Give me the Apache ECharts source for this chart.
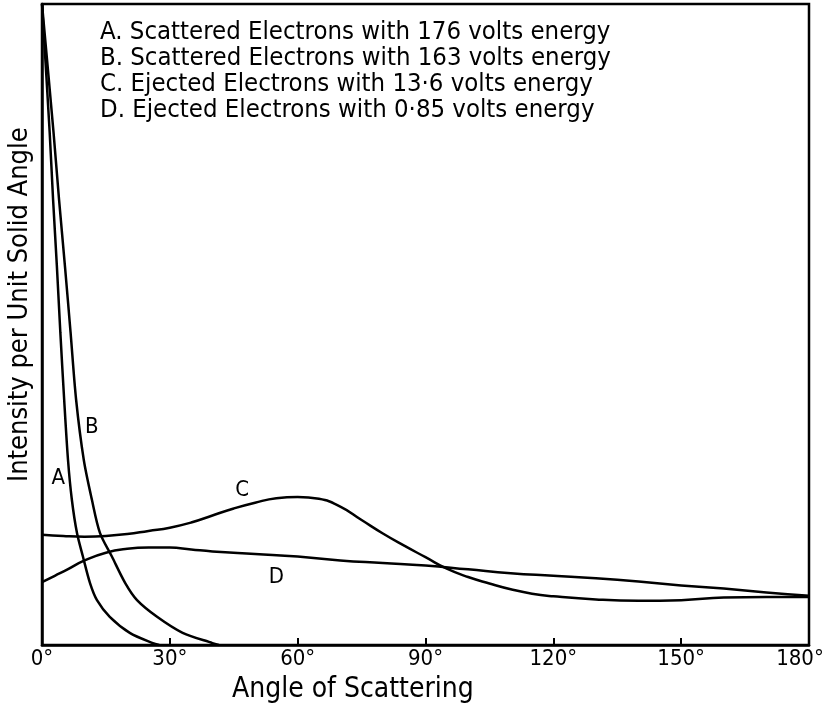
<!DOCTYPE html>
<html>
<head>
<meta charset="utf-8">
<script src="https://cdn.jsdelivr.net/npm/echarts@6/dist/echarts.min.js"></script>
<style>
html,body{margin:0;padding:0;background:#fff;overflow:hidden;}
#chart{width:825px;height:709px;}
</style>
</head>
<body>
<div id="chart"></div>
<script>
// ---- data (angle in degrees, relative intensity 0..100) ----
const angleTicks = [0, 30, 60, 90, 120, 150, 180];
const seriesA = [[0,100],[1.8,80],[2.6,69.5],[3.5,59],[4.3,48.8],[5.2,38.3],[6.1,28.9],[7.0,22.7],[8.2,17.5],[9.6,13.8],[11.25,9.7],[12.9,7.0],[15.9,4.4],[20.6,1.9],[26,0.3],[27.5,0]];
const seriesB = [[0,100],[2.7,80],[4.0,69.5],[5.4,59],[6.7,48.8],[8.0,38.3],[9.8,28.9],[11.7,22.7],[13.6,17.5],[16.4,13.8],[19.5,9.7],[22.3,7.0],[27,4.4],[33,1.9],[40,0.3],[41.5,0]];
const seriesC = [[0,17.2],[5,17.0],[10,16.9],[15,17.0],[20,17.3],[25,17.8],[30,18.3],[35,19.1],[40,20.2],[45,21.3],[50,22.2],[55,22.9],[60,23.1],[65,22.8],[70,21.6],[75,19.5],[80,17.4],[85,15.5],[90,13.7],[95,11.9],[100,10.6],[105,9.6],[110,8.7],[115,8.0],[120,7.6],[130,7.1],[140,6.9],[150,7.0],[160,7.4],[170,7.5],[180,7.5]];
const seriesD = [[0,9.8],[3,10.8],[6,11.8],[10,13.2],[15,14.4],[20,15.0],[25,15.2],[30,15.2],[35,14.9],[40,14.6],[50,14.2],[60,13.8],[70,13.2],[80,12.8],[90,12.4],[100,11.8],[110,11.2],[120,10.8],[130,10.4],[140,9.9],[150,9.3],[160,8.8],[170,8.2],[180,7.7]];
const curveNames = ['A', 'B', 'C', 'D'];
const curveLabelAt = [[3.8,26],[11.7,34],[47,24.2],[55,10.6]];
const legendLines = [
  'A. Scattered Electrons with 176 volts energy',
  'B. Scattered Electrons with 163 volts energy',
  'C. Ejected Electrons with 13·6 volts energy',
  'D. Ejected Electrons with 0·85 volts energy'
];
const xTitle = 'Angle of Scattering';
const yTitle = 'Intensity per Unit Solid Angle';

// ---- chart ----
const FONT = '"DejaVu Sans Condensed", "DejaVu Sans", sans-serif';
const chart = echarts.init(document.getElementById('chart'), null, {renderer: 'canvas'});
const allData = [seriesA, seriesB, seriesC, seriesD];
const series = allData.map((d, i) => ({
  name: curveNames[i],
  type: 'line',
  data: d,
  smooth: i < 2 ? 0.3 : 0.5,
  showSymbol: false,
  symbol: 'none',
  lineStyle: {color: '#000', width: 2.5},
  z: 3,
  markPoint: {
    symbol: 'circle', symbolSize: 0,
    data: [{coord: curveLabelAt[i], value: curveNames[i]}],
    label: {show: true, position: 'inside', formatter: curveNames[i], color: '#000',
            fontFamily: FONT, fontSize: 22}
  }
}));

const graphics = legendLines.map((t, i) => ({
  type: 'text', x: 100, y: 32 + i * 26,
  style: {text: t, fill: '#000', font: '25.5px ' + FONT, textVerticalAlign: 'middle'}
}));
graphics.push({type: 'text', x: 232, y: 690,
  style: {text: xTitle, fill: '#000', font: '28px ' + FONT, textVerticalAlign: 'middle'}});
graphics.push({type: 'text', rotation: Math.PI / 2, x: 6, y: 482,
  style: {text: yTitle, fill: '#000', font: '27px ' + FONT, textVerticalAlign: 'top'}});

chart.setOption({
  animation: false,
  backgroundColor: '#fff',
  grid: {left: 42, right: 16, top: 4, bottom: 64, show: true, borderColor: '#000', borderWidth: 2.5,
         containLabel: false, outerBoundsMode: 'none'},
  xAxis: {
    type: 'value', min: 0, max: 180, interval: 30,
    axisLine: {show: true, lineStyle: {color: '#000', width: 2.5}},
    axisTick: {show: true, inside: true, length: 7, lineStyle: {color: '#000', width: 2}},
    axisLabel: {color: '#000', fontFamily: FONT, fontSize: 22, margin: 3,
                formatter: v => angleTicks.includes(v) ? (v === 180 ? '{e|' + v + '°}' : v + '°') : '',
                rich: {e: {fontFamily: FONT, fontSize: 22, color: '#000', padding: [0, 18, 0, 0]}}},
    splitLine: {show: false}
  },
  yAxis: {
    type: 'value', min: 0, max: 100,
    axisLine: {show: true, lineStyle: {color: '#000', width: 2.5}},
    axisTick: {show: false}, axisLabel: {show: false}, splitLine: {show: false}
  },
  graphic: graphics,
  series: series
});
</script>
</body>
</html>
